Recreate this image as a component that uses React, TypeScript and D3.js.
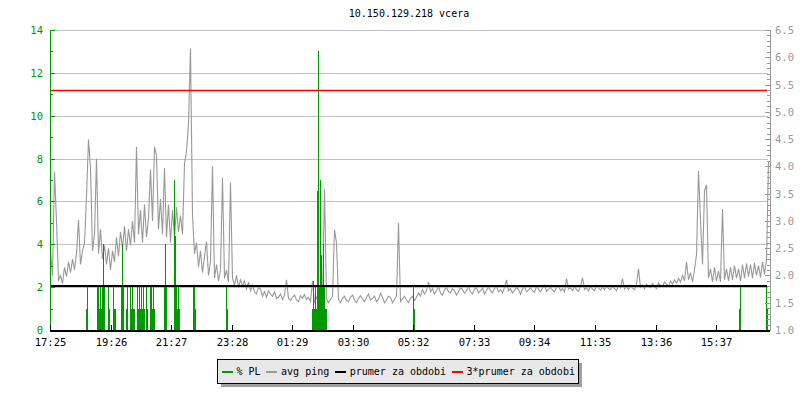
import React from "react";
import * as d3 from "d3";

const title = "10.150.129.218 vcera";
const xTickLabels = ["17:25", "19:26", "21:27", "23:28", "01:29", "03:30", "05:32", "07:33", "09:34", "11:35", "13:36", "15:37"];
const xTickStepMin = 121.1;
const totalMinutes = 1440;
const pingStepMin = 4;

const leftTicks = [0, 2, 4, 6, 8, 10, 12, 14];
const rightTicks = [1.0, 1.5, 2.0, 2.5, 3.0, 3.5, 4.0, 4.5, 5.0, 5.5, 6.0, 6.5];

const avgPing = 1.8;
const avgPing3 = 5.4;

// avg ping (ms), one value every 4 minutes
const pingValues = [
  2.45, 2.0, 3.9, 3.0, 1.9, 2.0, 1.85, 2.15, 1.98, 2.25,
  2.05, 2.3, 2.1, 2.4, 3.02, 2.2, 2.45, 2.6, 3.45, 4.49,
  3.97, 2.45, 2.75, 4.14, 2.4, 2.85, 2.3, 2.55, 2.2, 2.5,
  2.1, 2.45, 2.25, 2.7, 2.35, 2.8, 2.5, 2.9, 2.45, 2.85,
  2.55, 3.0, 2.6, 4.36, 2.75, 3.2, 2.6, 3.3, 2.7, 3.05,
  3.94, 3.0, 4.36, 4.2, 2.85, 3.4, 2.75, 3.97, 2.7, 3.3,
  2.6, 3.2, 2.7, 3.25, 2.8, 3.1, 2.75, 4.05, 4.27, 4.77,
  6.16, 3.1, 2.4, 2.6, 2.15, 2.45, 2.05, 2.35, 2.62, 2.0,
  2.25, 4.0, 1.95, 2.2, 1.9, 2.1, 3.79, 1.95, 2.1, 1.88,
  3.7, 1.95, 1.82, 2.0, 1.78, 1.92, 1.8, 1.9, 1.75, 1.88,
  1.72, 1.82, 1.7, 1.66, 1.78, 1.75, 1.62, 1.7, 1.6, 1.72,
  1.66, 1.62, 1.7, 1.58, 1.6, 1.66, 1.56, 1.64, 1.92, 1.58,
  1.54, 1.6, 1.64, 1.55, 1.52, 1.63, 1.58, 1.65, 1.56, 1.6,
  1.52, 1.9, 1.5, 1.6, 1.55, 1.48, 1.53, 3.59, 1.58, 1.5,
  1.56, 1.62, 2.84, 2.6, 1.56, 1.5, 1.58, 1.62, 1.54, 1.52,
  1.6, 1.64, 1.55, 1.5, 1.58, 1.63, 1.57, 1.52, 1.6, 1.66,
  1.55, 1.58, 1.62, 1.52, 1.56, 1.67, 1.6, 1.5, 1.55, 1.62,
  1.6, 1.5, 1.56, 1.63, 2.96, 1.52, 1.57, 1.62, 1.55, 1.5,
  1.58, 1.62, 1.54, 1.6, 1.68, 1.62, 1.74, 1.66, 1.72, 1.88,
  1.7, 1.76, 1.66, 1.72, 1.8, 1.68, 1.64, 1.74, 1.78, 1.7,
  1.68, 1.76, 1.72, 1.64, 1.7, 1.78, 1.74, 1.67, 1.72, 1.8,
  1.7, 1.66, 1.75, 1.78, 1.68, 1.72, 1.77, 1.66, 1.73, 1.79,
  1.72, 1.68, 1.76, 1.8, 1.7, 1.74, 1.68, 1.78, 1.92, 1.72,
  1.76, 1.68, 1.72, 1.79, 1.74, 1.66, 1.75, 1.8, 1.7, 1.73,
  1.78, 1.72, 1.69, 1.8, 1.75, 1.7, 1.77, 1.82, 1.71, 1.74,
  1.79, 1.73, 1.7, 1.78, 1.81, 1.72, 1.76, 1.7, 1.94, 1.75,
  1.78, 1.72, 1.8, 1.74, 1.71, 1.8, 1.96, 1.74, 1.78, 1.72,
  1.8, 1.75, 1.72, 1.82, 1.77, 1.73, 1.79, 1.74, 1.81, 1.76,
  1.74, 1.8, 1.76, 1.72, 1.82, 1.77, 1.94, 1.75, 1.8, 1.74,
  1.82, 1.77, 1.74, 1.84, 2.12, 1.78, 1.82, 1.76, 1.84, 1.8,
  1.78, 1.85, 1.8, 1.76, 1.86, 1.82, 1.79, 1.88, 1.84, 1.8,
  1.9, 1.84, 1.92, 1.86, 1.95, 1.88, 2.0, 1.9, 2.25, 1.92,
  2.05, 1.88, 2.1, 2.38, 3.92, 3.02, 2.2, 3.55, 3.66, 1.95,
  2.12, 1.88, 2.15, 1.9, 2.08, 1.88, 3.22, 1.92, 2.12, 1.9,
  2.15, 1.92, 2.18, 1.95, 2.12, 1.9, 2.2, 1.95, 2.22, 1.98,
  2.2, 1.95, 2.23, 2.0, 2.18, 1.96, 2.25, 2.02, 2.28, 4.1,
];

// packet loss events: minute offset from start, % PL
const plMinutes = [
  72, 74, 94, 96, 98, 100, 102, 104, 106, 108, 116, 118, 126, 128, 130,
  142, 144, 146, 152, 154, 160, 162, 164, 166, 168, 174, 176, 178, 180,
  182, 184, 186, 188, 192, 194, 200, 202, 204, 206, 208, 228, 230, 232,
  248, 250, 252, 254, 256, 258, 286, 288, 290, 352, 354,
  524, 526, 528, 530, 532, 534, 536, 538, 540, 542, 544, 546, 548, 550, 552,
  726, 728, 1378, 1380, 1432, 1434,
];
const plValues = [
  1, 2, 2, 2, 1, 2, 1, 2, 4, 2, 2, 1, 2, 1, 1,
  2, 4, 2, 1, 2, 2, 1, 2, 1, 1, 2, 1, 2, 1,
  2, 1, 2, 1, 2, 1, 2, 2, 1, 2, 1, 2, 4, 2,
  7, 4.4, 2, 1, 2, 1, 2, 2, 1, 2, 1,
  1, 2.3, 1, 2, 1, 6.5, 13, 2, 7, 3.5, 2, 4, 2, 1, 1,
  2, 1, 1, 2, 2, 1,
];

const legendItems = [
  { label: "% PL", color: "#009900" },
  { label: "avg ping", color: "#999999" },
  { label: "prumer za obdobi", color: "#000000" },
  { label: "3*prumer za obdobi", color: "#ff0000" },
];

const W = 800;
const H = 400;
const FONT = "'DejaVu Sans Mono', monospace";
const GREEN = "#009900";
const GRAY = "#999999";
const CHAR_W = 6.02;

export default function App() {
  const left = 50;
  const right = 770;
  const top = 30;
  const bottom = 330;

  const x = d3.scaleLinear().domain([0, totalMinutes]).range([left, right]);
  const yL = d3.scaleLinear().domain([0, 14]).range([bottom, top]);
  const yR = d3.scaleLinear().domain([1, 6.5]).range([bottom, top]);

  const pingLine = d3
    .line<number>()
    .x((_, i) => x(i * pingStepMin) + 0.5)
    .y((d) => yR(d));

  const leftMinor = d3.range(1, 14, 2);
  const rightMinor = d3.range(10, 66).map((v) => v / 10).filter((v) => Math.round(v * 10) % 5 !== 0);

  // legend layout
  const pad = 4;
  const sw = 11;
  const gapText = 4;
  const gapItem = 5.5;
  let cursor = 0;
  const legendLayout = legendItems.map((it, i) => {
    const start = cursor;
    const tw = it.label.length * CHAR_W;
    cursor += sw + gapText + tw + (i < legendItems.length - 1 ? gapItem : 0);
    return { ...it, start };
  });
  const legendW = cursor + pad * 2;
  const legendX = 217.5;
  const legendY = 359.5;
  const legendH = 24;

  return (
    <svg
      width={W}
      height={H}
      style={{ position: "absolute", left: 0, top: 0, background: "#fff" }}
      fontFamily={FONT}
    >
      <rect x={0} y={0} width={W} height={H} fill="#fff" />
      <text x={409} y={17} fontSize={10} textAnchor="middle" fill="#000">
        {title}
      </text>

      {/* grid */}
      <g shapeRendering="crispEdges">
        {leftTicks.filter((t) => t > 0).map((t) => (
          <line key={t} x1={left} x2={right - 2} y1={Math.round(yL(t)) + 0.5} y2={Math.round(yL(t)) + 0.5} stroke="#c0c0c0" strokeWidth={1} />
        ))}
      </g>

      {/* avg ping line */}
      <path d={pingLine(pingValues) || ""} fill="none" stroke={GRAY} strokeWidth={1.1} />

      {/* PL bars */}
      <g shapeRendering="crispEdges">
        {plMinutes.map((m, i) => (
          <rect
            key={i}
            x={Math.round(x(m))}
            y={yL(plValues[i])}
            width={1}
            height={yL(0) - yL(plValues[i])}
            fill={GREEN}
          />
        ))}
      </g>

      {/* average lines */}
      <line x1={left} x2={right - 3} y1={yR(avgPing)} y2={yR(avgPing)} stroke="#000" strokeWidth={2} shapeRendering="crispEdges" />
      <line x1={left} x2={right - 3} y1={Math.round(yR(avgPing3)) + 0.5} y2={Math.round(yR(avgPing3)) + 0.5} stroke="#ff0000" strokeWidth={1.5} />

      {/* left axis */}
      <g shapeRendering="crispEdges">
        <line x1={left + 0.5} x2={left + 0.5} y1={top} y2={bottom} stroke={GREEN} strokeWidth={1} />
        {leftTicks.map((t) => (
          <g key={t}>
            <line x1={left} x2={left + 5} y1={Math.round(yL(t)) + 0.5} y2={Math.round(yL(t)) + 0.5} stroke={GREEN} />
            <text x={43} y={yL(t) + 4} fontSize={10.5} textAnchor="end" fill={GREEN}>
              {t}
            </text>
          </g>
        ))}
        {leftMinor.map((t) => (
          <line key={t} x1={left} x2={left + 3} y1={Math.round(yL(t)) + 0.5} y2={Math.round(yL(t)) + 0.5} stroke={GREEN} />
        ))}
      </g>

      {/* right axis */}
      <g shapeRendering="crispEdges">
        <line x1={right + 0.5} x2={right + 0.5} y1={top} y2={bottom} stroke={GRAY} strokeWidth={1} />
        {rightTicks.map((t) => (
          <g key={t}>
            <line x1={right - 5} x2={right + 1} y1={Math.round(yR(t)) + 0.5} y2={Math.round(yR(t)) + 0.5} stroke={GRAY} />
            <text x={775} y={yR(t) + 4} fontSize={10.5} textAnchor="start" fill={GRAY}>
              {t.toFixed(1)}
            </text>
          </g>
        ))}
        {rightMinor.map((t) => (
          <line key={t} x1={right - 3} x2={right + 1} y1={Math.round(yR(t)) + 0.5} y2={Math.round(yR(t)) + 0.5} stroke={GRAY} />
        ))}
      </g>

      {/* x axis */}
      <g shapeRendering="crispEdges">
        <line x1={left} x2={right} y1={bottom + 0.5} y2={bottom + 0.5} stroke="#000" strokeWidth={2} />
        {xTickLabels.map((lab, k) => {
          const px = Math.round(x(k * xTickStepMin)) + 0.5;
          return (
            <g key={lab}>
              <line x1={px} x2={px} y1={bottom - 5} y2={bottom} stroke="#000" />
              <text x={px} y={346} fontSize={10.5} textAnchor="middle" fill="#000">
                {lab}
              </text>
            </g>
          );
        })}
      </g>

      {/* legend */}
      <g>
        <rect x={legendX + 3} y={legendY + 3} width={legendW} height={legendH} fill="#a0a0a0" shapeRendering="crispEdges" />
        <rect x={legendX} y={legendY} width={legendW} height={legendH} fill="#e8e8e8" stroke="#000" strokeWidth={1} shapeRendering="crispEdges" />
        {legendLayout.map((it) => {
          const sx = legendX + pad + it.start;
          return (
            <g key={it.label}>
              <rect x={sx} y={371} width={sw} height={2} fill={it.color} shapeRendering="crispEdges" />
              <text x={sx + sw + gapText} y={375} fontSize={10} fill="#000">
                {it.label}
              </text>
            </g>
          );
        })}
      </g>
    </svg>
  );
}
